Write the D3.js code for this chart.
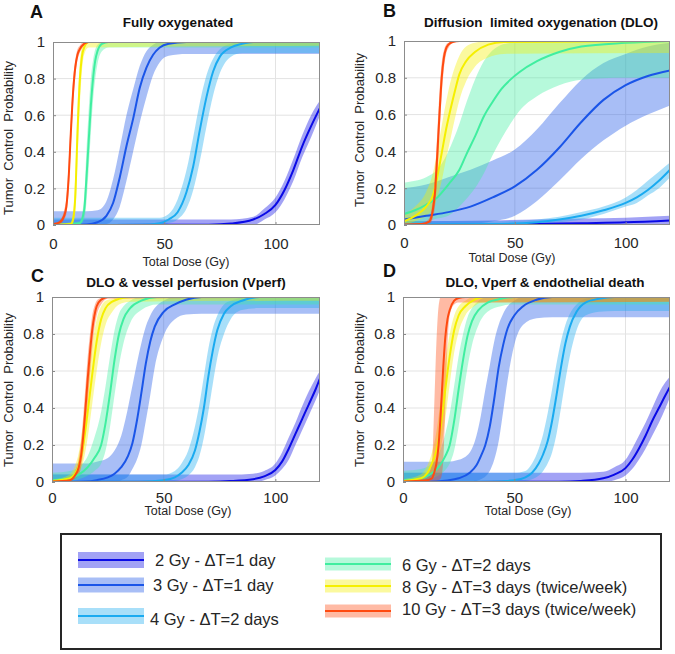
<!DOCTYPE html>
<html><head><meta charset="utf-8">
<script src="https://cdn.jsdelivr.net/npm/d3@7"></script>
<style>body{margin:0;background:#fff}svg{display:block}text{font-family:"Liberation Sans",Arial,sans-serif}</style>
</head><body><svg id="c" width="675" height="654"></svg>
<script>
// ---------- data: [dose, mean TCP, lower, upper] ----------
const A_2Gy=[[0,0,0,0.03],[50,0.001,0,0.03],[70,0.002,0,0.03],[80,0.008,0,0.03],[90,0.03,0,0.045],[95,0.06,0.03,0.09],[100,0.11,0.07,0.15],[104,0.19,0.14,0.24],[108,0.3,0.24,0.36],[112,0.43,0.37,0.49],[116,0.54,0.48,0.6],[120,0.64,0.6,0.68]];
const A_3Gy=[[0,0,0,0.075],[15,0.003,0,0.075],[20,0.015,0,0.08],[24,0.05,0.005,0.13],[27,0.12,0.03,0.25],[30,0.26,0.1,0.42],[33,0.43,0.24,0.6],[36,0.58,0.4,0.74],[39,0.75,0.56,0.87],[42,0.86,0.7,0.95],[45,0.93,0.82,0.985],[48,0.97,0.89,1],[52,0.99,0.925,1],[60,1,0.935,1],[120,1,0.935,1]];
const A_4Gy=[[0,0,0,0.04],[40,0.001,0,0.04],[48,0.01,0,0.04],[52,0.03,0.01,0.06],[56,0.07,0.03,0.14],[60,0.18,0.09,0.3],[63,0.32,0.19,0.48],[66,0.52,0.35,0.67],[69,0.7,0.54,0.82],[72,0.84,0.71,0.91],[75,0.92,0.83,0.96],[80,0.97,0.92,0.99],[85,0.99,0.94,1],[90,1,0.94,1],[120,1,0.94,1]];
const A_6Gy=[[0,0,0,0.005],[12,0.01,0,0.02],[14,0.08,0.03,0.15],[15,0.25,0.12,0.4],[16,0.45,0.3,0.62],[17,0.65,0.5,0.8],[18,0.8,0.68,0.9],[19,0.9,0.8,0.96],[20,0.95,0.88,0.985],[22,0.99,0.95,1],[25,1,0.97,1],[120,1,0.97,1]];
const A_8Gy=[[0,0,0,0.005],[8,0.005,0,0.015],[9,0.03,0.01,0.07],[10,0.15,0.07,0.27],[11,0.5,0.35,0.64],[12,0.78,0.64,0.88],[13,0.92,0.84,0.97],[14,0.97,0.93,0.99],[16,1,0.97,1],[120,1,0.98,1]];
const A_10Gy=[[0,0.005,0,0.01],[3,0.015,0.005,0.025],[5,0.05,0.03,0.08],[6,0.1,0.06,0.15],[7,0.25,0.18,0.33],[8,0.5,0.42,0.58],[9,0.72,0.65,0.79],[10,0.86,0.81,0.9],[11,0.93,0.9,0.96],[12,0.96,0.94,0.98],[14,0.99,0.98,1],[16,1,0.995,1],[120,1,1,1]];

const B_2Gy=[[0,0,0,0.02],[40,0.002,0,0.025],[60,0.005,0,0.03],[80,0.01,0,0.035],[100,0.015,0.002,0.04],[120,0.025,0.005,0.05]];
const B_3Gy=[[0,0.03,0,0.2],[10,0.05,0,0.22],[20,0.07,0,0.26],[30,0.1,0.005,0.3],[40,0.15,0.02,0.35],[50,0.21,0.05,0.41],[60,0.3,0.13,0.52],[70,0.42,0.24,0.66],[80,0.56,0.36,0.79],[90,0.68,0.46,0.88],[100,0.76,0.54,0.93],[110,0.81,0.6,0.97],[120,0.84,0.65,0.99]];
const B_4Gy=[[0,0.003,0,0.02],[40,0.005,0,0.02],[60,0.015,0.005,0.03],[70,0.03,0.015,0.045],[80,0.05,0.03,0.07],[90,0.08,0.06,0.1],[100,0.12,0.1,0.15],[105,0.15,0.12,0.19],[110,0.19,0.16,0.24],[115,0.24,0.2,0.29],[120,0.3,0.26,0.34]];
const B_6Gy=[[0,0.06,0,0.23],[5,0.08,0.005,0.24],[10,0.11,0.02,0.26],[15,0.15,0.035,0.3],[20,0.22,0.05,0.4],[25,0.3,0.1,0.55],[28,0.38,0.14,0.66],[32,0.48,0.2,0.79],[36,0.59,0.28,0.89],[40,0.67,0.38,0.95],[44,0.74,0.47,0.98],[48,0.79,0.55,0.99],[52,0.83,0.62,1],[60,0.89,0.7,1],[70,0.94,0.76,1],[80,0.97,0.79,1],[100,0.99,0.8,1],[120,1,0.8,1]];
const B_8Gy=[[0,0.02,0,0.06],[5,0.05,0.02,0.1],[10,0.1,0.05,0.18],[13,0.16,0.09,0.28],[15,0.26,0.15,0.4],[17,0.39,0.24,0.54],[19,0.52,0.36,0.67],[21,0.63,0.47,0.78],[23,0.73,0.58,0.86],[25,0.82,0.68,0.92],[28,0.89,0.78,0.97],[32,0.94,0.86,0.99],[38,0.98,0.91,1],[45,0.995,0.93,1],[120,1,0.935,1]];
const B_10Gy=[[0,0.003,0,0.006],[8,0.005,0,0.01],[11,0.015,0.005,0.03],[12,0.03,0.01,0.06],[13,0.08,0.04,0.14],[14,0.18,0.1,0.28],[15,0.38,0.26,0.5],[16,0.6,0.48,0.72],[17,0.8,0.7,0.88],[18,0.91,0.85,0.95],[19,0.96,0.93,0.98],[20,0.98,0.96,0.99],[22,0.995,0.99,1],[25,1,1,1],[120,1,1,1]];

const C_2Gy=[[0,0,0,0.04],[70,0.002,0,0.04],[80,0.005,0,0.04],[90,0.015,0,0.045],[95,0.03,0.01,0.06],[100,0.065,0.035,0.1],[103,0.11,0.07,0.16],[106,0.18,0.12,0.24],[109,0.26,0.2,0.32],[112,0.34,0.28,0.41],[115,0.42,0.36,0.49],[118,0.5,0.44,0.56],[120,0.56,0.5,0.6]];
const C_3Gy=[[0,0,0,0.1],[15,0.003,0,0.1],[20,0.01,0,0.11],[25,0.025,0,0.13],[28,0.045,0,0.17],[31,0.08,0.01,0.25],[34,0.14,0.03,0.4],[36,0.21,0.07,0.52],[38,0.33,0.12,0.64],[40,0.48,0.2,0.75],[42,0.64,0.33,0.84],[44,0.76,0.47,0.9],[46,0.84,0.62,0.94],[50,0.92,0.79,0.98],[55,0.96,0.88,1],[60,0.985,0.905,1],[67,1,0.91,1],[120,1,0.91,1]];
const C_4Gy=[[0,0,0,0.04],[40,0.002,0,0.04],[50,0.01,0,0.04],[55,0.025,0.005,0.06],[58,0.05,0.015,0.1],[61,0.09,0.035,0.17],[64,0.17,0.08,0.3],[66,0.27,0.14,0.42],[68,0.4,0.24,0.57],[70,0.57,0.38,0.72],[72,0.71,0.53,0.83],[74,0.82,0.67,0.9],[77,0.91,0.8,0.96],[80,0.95,0.88,0.98],[85,0.98,0.93,0.995],[93,1,0.94,1],[120,1,0.94,1]];
const C_6Gy=[[0,0.01,0,0.05],[8,0.02,0.005,0.06],[12,0.04,0.015,0.08],[16,0.08,0.035,0.14],[19,0.13,0.06,0.24],[22,0.2,0.1,0.38],[24,0.32,0.17,0.52],[26,0.48,0.3,0.68],[28,0.66,0.47,0.82],[30,0.8,0.63,0.91],[32,0.88,0.75,0.95],[35,0.94,0.86,0.98],[40,0.98,0.93,1],[47,1,0.96,1],[120,1,0.96,1]];
const C_8Gy=[[0,0.005,0,0.01],[8,0.02,0.01,0.04],[10,0.04,0.02,0.08],[12,0.09,0.05,0.16],[14,0.2,0.11,0.32],[16,0.38,0.24,0.54],[18,0.58,0.42,0.74],[20,0.76,0.6,0.88],[22,0.88,0.75,0.95],[24,0.94,0.85,0.98],[27,0.975,0.92,0.99],[30,0.99,0.96,1],[35,1,0.975,1],[120,1,0.98,1]];
const C_10Gy=[[0,0.003,0,0.008],[8,0.01,0.004,0.02],[10,0.03,0.015,0.05],[12,0.08,0.04,0.13],[13,0.14,0.08,0.22],[14,0.25,0.16,0.36],[15,0.4,0.28,0.52],[16,0.56,0.43,0.68],[17,0.7,0.58,0.8],[18,0.82,0.72,0.9],[19,0.9,0.83,0.95],[20,0.95,0.9,0.98],[22,0.985,0.96,0.995],[25,1,0.99,1],[120,1,0.995,1]];

const D_2Gy=[[0,0,0,0.05],[70,0.002,0,0.05],[80,0.006,0,0.05],[90,0.02,0,0.055],[95,0.04,0.01,0.08],[100,0.075,0.035,0.12],[103,0.12,0.07,0.18],[106,0.18,0.12,0.25],[109,0.25,0.18,0.32],[112,0.33,0.25,0.4],[115,0.4,0.32,0.48],[118,0.47,0.4,0.54],[120,0.515,0.46,0.57]];
const D_3Gy=[[0,0,0,0.11],[15,0.003,0,0.11],[20,0.008,0,0.11],[25,0.02,0,0.12],[30,0.05,0,0.16],[33,0.09,0.005,0.25],[35,0.14,0.015,0.36],[37,0.2,0.03,0.5],[39,0.3,0.06,0.63],[41,0.45,0.12,0.76],[43,0.62,0.22,0.85],[45,0.74,0.38,0.91],[47,0.83,0.55,0.95],[50,0.9,0.74,0.98],[54,0.95,0.85,1],[60,0.985,0.885,1],[67,1,0.89,1],[120,1,0.89,1]];
const D_4Gy=[[0,0,0,0.05],[40,0.002,0,0.05],[50,0.01,0,0.05],[55,0.025,0.005,0.06],[58,0.05,0.015,0.1],[61,0.1,0.035,0.18],[63,0.15,0.06,0.26],[65,0.22,0.1,0.37],[67,0.33,0.16,0.5],[69,0.47,0.26,0.64],[71,0.62,0.4,0.76],[73,0.75,0.55,0.85],[75,0.84,0.68,0.91],[78,0.92,0.82,0.96],[82,0.97,0.9,0.99],[88,0.99,0.92,1],[95,1,0.925,1],[120,1,0.925,1]];
const D_6Gy=[[0,0.01,0,0.06],[8,0.02,0.005,0.07],[12,0.04,0.015,0.09],[16,0.08,0.035,0.15],[19,0.14,0.065,0.26],[21,0.2,0.1,0.37],[23,0.33,0.17,0.52],[25,0.5,0.3,0.68],[27,0.66,0.46,0.8],[29,0.79,0.62,0.89],[31,0.87,0.74,0.94],[34,0.93,0.85,0.98],[38,0.97,0.92,1],[44,0.99,0.95,1],[50,1,0.96,1],[120,1,0.96,1]];
const D_8Gy=[[0,0.005,0,0.015],[8,0.02,0.01,0.04],[11,0.05,0.025,0.09],[13,0.1,0.05,0.16],[15,0.17,0.1,0.27],[17,0.3,0.18,0.45],[19,0.5,0.34,0.65],[21,0.68,0.53,0.8],[23,0.82,0.7,0.9],[25,0.9,0.81,0.95],[28,0.95,0.9,0.98],[32,0.985,0.95,1],[36,1,0.97,1],[120,1,0.975,1]];
const D_10Gy=[[0,0.003,0,0.01],[10,0.008,0,0.02],[13,0.02,0,0.1],[14,0.05,0,0.4],[15,0.1,0.005,0.75],[16,0.2,0.01,0.95],[17,0.38,0.02,1],[18,0.6,0.1,1],[19,0.78,0.4,1],[20,0.88,0.75,1],[21,0.93,0.9,1],[23,0.98,0.96,1],[25,0.995,0.97,1],[28,1,0.97,1],[120,1,0.975,1]];

const seriesLabels=["2 Gy - \u0394T=1 day","3 Gy - \u0394T=1 day","4 Gy - \u0394T=2 days","6 Gy - \u0394T=2 days","8 Gy - \u0394T=3 days (twice/week)","10 Gy - \u0394T=3 days (twice/week)"];
const panelLetters=["A","B","C","D"];
const panelTitles=["Fully oxygenated","Diffusion  limited oxygenation (DLO)","DLO & vessel perfusion (Vperf)","DLO, Vperf & endothelial death"];
const xTicks=[0,50,100];
const yTicks=[0,0.2,0.4,0.6,0.8,1];
const yTickLabels=["0","0.2","0.4","0.6","0.8","1"];
const xLabel="Total Dose (Gy)";
const yLabel="Tumor  Control  Probability";

// ---------- styles / layout ----------
const lineColors=["#0a0ae6","#1a55e8","#1aaaf0","#40eea0","#f5ef00","#ff4a10"];
const bandOpacity=0.38;
const panelData=[[A_2Gy,A_3Gy,A_4Gy,A_6Gy,A_8Gy,A_10Gy],[B_2Gy,B_3Gy,B_4Gy,B_6Gy,B_8Gy,B_10Gy],[C_2Gy,C_3Gy,C_4Gy,C_6Gy,C_8Gy,C_10Gy],[D_2Gy,D_3Gy,D_4Gy,D_6Gy,D_8Gy,D_10Gy]];
const layout=[
 {x0:53,x1:320,y0:225,y1:42, pad:13, letter:[30,18], title:[178,27], xl:[186,266], yl:[13,138]},
 {x0:404,x1:670,y0:225,y1:41, pad:12, letter:[383,17], title:[541,27], xl:[512,262], yl:[364,130]},
 {x0:52,x1:320,y0:482,y1:297, pad:10, letter:[31,282], title:[186,287], xl:[188,515], yl:[13,390]},
 {x0:403,x1:670,y0:482,y1:297, pad:10, letter:[383,277], title:[545,287], xl:[528,515], yl:[364,390]}
];
const txt="#262626";
const svg=d3.select("#c");

layout.forEach((L,pi)=>{
  const x=d3.scaleLinear().domain([0,120]).range([L.x0,L.x1]);
  const y=d3.scaleLinear().domain([0,1]).range([L.y0,L.y1]);
  const g=svg.append("g");
  const cid="clip"+pi;
  svg.append("clipPath").attr("id",cid).append("rect")
    .attr("x",L.x0).attr("y",L.y1).attr("width",L.x1-L.x0).attr("height",L.y0-L.y1);
  // grid
  g.append("g").selectAll("line").data(xTicks.slice(1)).join("line")
    .attr("x1",d=>x(d)).attr("x2",d=>x(d)).attr("y1",L.y0).attr("y2",L.y1)
    .attr("stroke","#e3e3e3").attr("stroke-width",1);
  g.append("g").selectAll("line").data(yTicks.slice(1,-1)).join("line")
    .attr("x1",L.x0).attr("x2",L.x1).attr("y1",d=>y(d)).attr("y2",d=>y(d))
    .attr("stroke","#e3e3e3").attr("stroke-width",1);
  const plot=g.append("g").attr("clip-path",`url(#${cid})`);
  const area=d3.area().x(d=>x(d[0])).y0(d=>y(d[2])).y1(d=>y(d[3])).curve(d3.curveMonotoneX);
  const line=d3.line().x(d=>x(d[0])).y(d=>y(d[1])).curve(d3.curveMonotoneX);
  panelData[pi].forEach((s,si)=>{
    plot.append("path").attr("d",area(s)).attr("fill",lineColors[si]).attr("fill-opacity",bandOpacity).attr("stroke","none");
  });
  panelData[pi].forEach((s,si)=>{
    plot.append("path").attr("d",line(s)).attr("fill","none").attr("stroke",lineColors[si]).attr("stroke-width",2);
  });
  // axes
  const ax=d3.axisBottom(x).tickValues(xTicks).tickFormat(d3.format("d")).tickSizeInner(-3).tickSizeOuter(0).tickPadding(L.pad);
  const axG=g.append("g").attr("transform",`translate(0,${L.y0})`).call(ax);
  const ay=d3.axisLeft(y).tickValues(yTicks).tickFormat((d,i)=>yTickLabels[i]).tickSizeInner(-3).tickSizeOuter(0).tickPadding(8);
  const ayG=g.append("g").attr("transform",`translate(${L.x0},0)`).call(ay);
  [axG,ayG].forEach(a=>{
    a.select(".domain").remove();
    a.selectAll(".tick line").attr("stroke","#8a8a8a");
    a.selectAll(".tick text").attr("fill",txt).style("font-size","15px").style("font-family",'"Liberation Sans",Arial,sans-serif');
  });
  g.append("rect").attr("x",L.x0+0.5).attr("y",L.y1+0.5).attr("width",L.x1-L.x0-1).attr("height",L.y0-L.y1-1)
    .attr("fill","none").attr("stroke","#8c8c8c").attr("stroke-width",1);
  // texts
  g.append("text").attr("x",L.letter[0]).attr("y",L.letter[1]).text(panelLetters[pi])
    .attr("fill","#111").style("font-size","18px").style("font-weight","bold");
  g.append("text").attr("x",L.title[0]).attr("y",L.title[1]).attr("text-anchor","middle").text(panelTitles[pi])
    .attr("fill","#111").style("font-size","13.5px").style("font-weight","bold").style("white-space","pre");
  g.append("text").attr("x",L.xl[0]).attr("y",L.xl[1]).attr("text-anchor","middle").text(xLabel)
    .attr("fill",txt).style("font-size","12.5px");
  g.append("text").attr("transform",`translate(${L.yl[0]},${L.yl[1]}) rotate(-90)`).attr("text-anchor","middle").text(yLabel)
    .attr("fill",txt).style("font-size","13px").style("white-space","pre");
});

// ---------- legend ----------
const lg=svg.append("g");
lg.append("rect").attr("x",61).attr("y",534).attr("width",600).attr("height",115).attr("fill","#fff").attr("stroke","#262626").attr("stroke-width",2);
const legPos=[
 {sx:78,sy:560,h:16,tx:155,ty:566},
 {sx:78,sy:585,h:15,tx:153,ty:591},
 {sx:78,sy:616,h:16,tx:150,ty:625},
 {sx:325,sy:564,h:13,tx:402,ty:571},
 {sx:325,sy:586,h:13,tx:402,ty:593},
 {sx:325,sy:611,h:13,tx:402,ty:615}
];
seriesLabels.forEach((lab,i)=>{
  const p=legPos[i];
  lg.append("rect").attr("x",p.sx).attr("y",p.sy-p.h/2).attr("width",66).attr("height",p.h).attr("fill",lineColors[i]).attr("fill-opacity",bandOpacity);
  lg.append("line").attr("x1",p.sx).attr("x2",p.sx+66).attr("y1",p.sy).attr("y2",p.sy).attr("stroke",lineColors[i]).attr("stroke-width",2);
  lg.append("text").attr("x",p.tx).attr("y",p.ty).text(lab).attr("fill",txt).style("font-size","16.5px");
});
</script></body></html>
